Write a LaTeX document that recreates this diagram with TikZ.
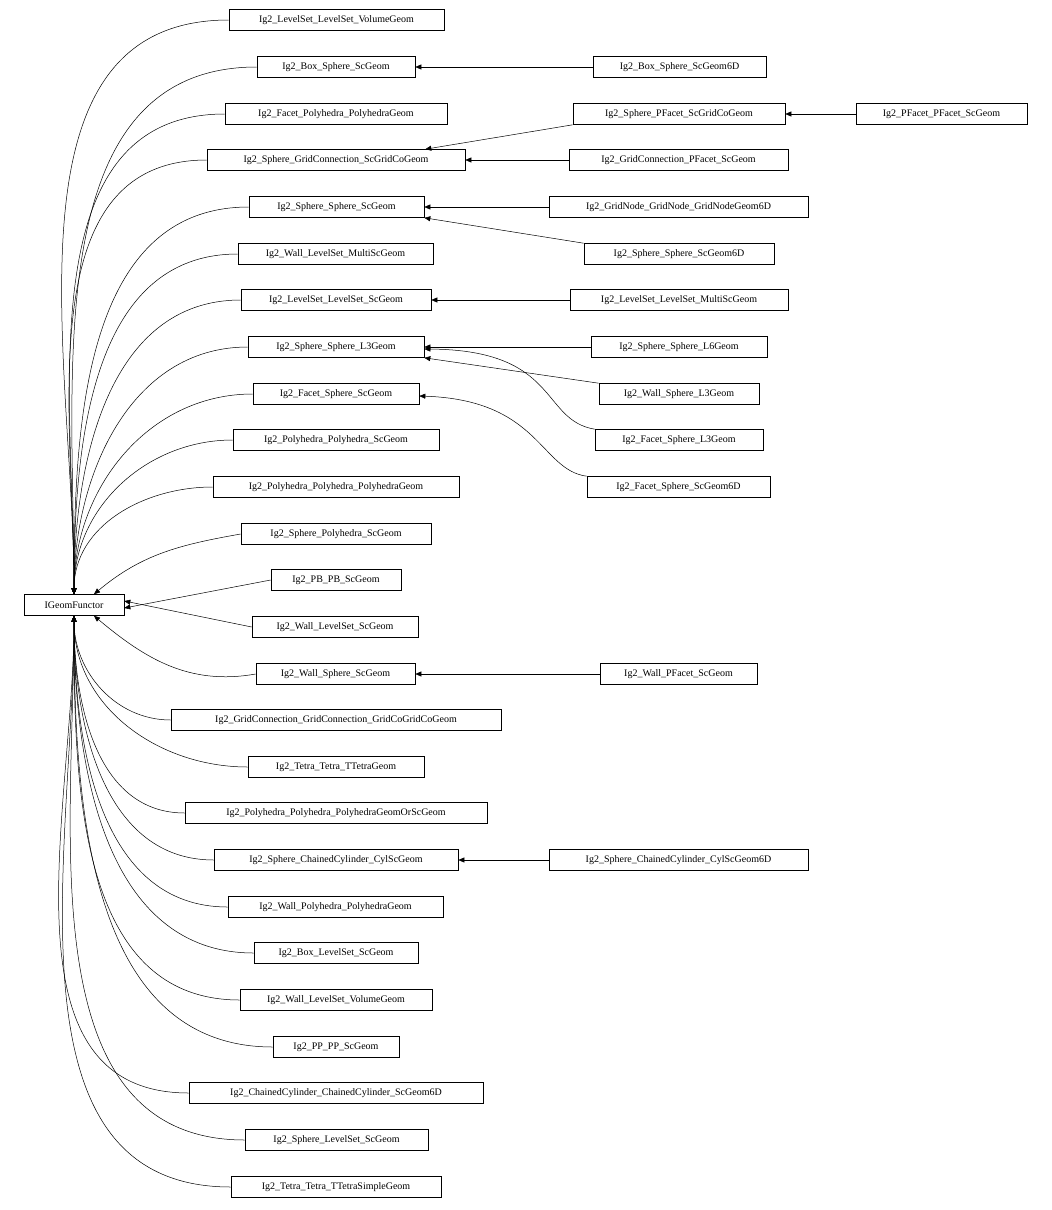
\documentclass[tikz,border=0pt]{standalone}
\usepackage{fontspec}
\setmainfont{Liberation Serif}
\usetikzlibrary{arrows.meta}
\begin{document}
\begin{tikzpicture}[x=1pt,y=-1pt,
 box/.style={draw,line width=0.6pt,minimum height=21,inner sep=0pt,font=\fontsize{10}{12}\selectfont},
 e/.style={line width=0.5pt,-{Triangle[length=6pt,width=5pt]}}]
\useasboundingbox (0,0) rectangle (1052,1210);
\newcommand\nd[5]{\node[box,minimum width=#4] (#1) at (#2,#3) {#5};}
\nd{g}{74}{605}{100}{IGeomFunctor}
\nd{a1}{336.5}{20}{215}{Ig2\_LevelSet\_LevelSet\_VolumeGeom}
\nd{a2}{336}{67}{158}{Ig2\_Box\_Sphere\_ScGeom}
\nd{a3}{336}{114}{222}{Ig2\_Facet\_Polyhedra\_PolyhedraGeom}
\nd{a4}{336}{160}{258}{Ig2\_Sphere\_GridConnection\_ScGridCoGeom}
\nd{a5}{336.5}{207}{175}{Ig2\_Sphere\_Sphere\_ScGeom}
\nd{a6}{335.5}{254}{195}{Ig2\_Wall\_LevelSet\_MultiScGeom}
\nd{a7}{336}{300}{190}{Ig2\_LevelSet\_LevelSet\_ScGeom}
\nd{a8}{336}{347}{176}{Ig2\_Sphere\_Sphere\_L3Geom}
\nd{a9}{336}{394}{166}{Ig2\_Facet\_Sphere\_ScGeom}
\nd{a10}{336}{440}{206}{Ig2\_Polyhedra\_Polyhedra\_ScGeom}
\nd{a11}{336}{487}{246}{Ig2\_Polyhedra\_Polyhedra\_PolyhedraGeom}
\nd{a12}{336}{534}{190}{Ig2\_Sphere\_Polyhedra\_ScGeom}
\nd{a13}{336}{580}{130}{Ig2\_PB\_PB\_ScGeom}
\nd{a14}{335}{627}{166}{Ig2\_Wall\_LevelSet\_ScGeom}
\nd{a15}{335.5}{674}{159}{Ig2\_Wall\_Sphere\_ScGeom}
\nd{a16}{336}{720}{330}{Ig2\_GridConnection\_GridConnection\_GridCoGridCoGeom}
\nd{a17}{336}{767}{176}{Ig2\_Tetra\_Tetra\_TTetraGeom}
\nd{a18}{336}{813}{302}{Ig2\_Polyhedra\_Polyhedra\_PolyhedraGeomOrScGeom}
\nd{a19}{336}{860}{244}{Ig2\_Sphere\_ChainedCylinder\_CylScGeom}
\nd{a20}{335.5}{907}{215}{Ig2\_Wall\_Polyhedra\_PolyhedraGeom}
\nd{a21}{336}{953}{164}{Ig2\_Box\_LevelSet\_ScGeom}
\nd{a22}{336}{1000}{192}{Ig2\_Wall\_LevelSet\_VolumeGeom}
\nd{a23}{336}{1047}{126}{Ig2\_PP\_PP\_ScGeom}
\nd{a24}{336}{1093}{294}{Ig2\_ChainedCylinder\_ChainedCylinder\_ScGeom6D}
\nd{a25}{336.5}{1140}{183}{Ig2\_Sphere\_LevelSet\_ScGeom}
\nd{a26}{336}{1187}{210}{Ig2\_Tetra\_Tetra\_TTetraSimpleGeom}
\nd{b2}{679.5}{67}{173}{Ig2\_Box\_Sphere\_ScGeom6D}
\nd{b3}{679}{114}{212}{Ig2\_Sphere\_PFacet\_ScGridCoGeom}
\nd{b4}{678.5}{160}{219}{Ig2\_GridConnection\_PFacet\_ScGeom}
\nd{b5}{678.5}{207}{259}{Ig2\_GridNode\_GridNode\_GridNodeGeom6D}
\nd{b6}{679}{254}{190}{Ig2\_Sphere\_Sphere\_ScGeom6D}
\nd{b7}{679}{300}{218}{Ig2\_LevelSet\_LevelSet\_MultiScGeom}
\nd{b8}{679}{347}{176}{Ig2\_Sphere\_Sphere\_L6Geom}
\nd{b9}{679}{394}{160}{Ig2\_Wall\_Sphere\_L3Geom}
\nd{b10}{679}{440}{168}{Ig2\_Facet\_Sphere\_L3Geom}
\nd{b11}{678.5}{487}{183}{Ig2\_Facet\_Sphere\_ScGeom6D}
\nd{b15}{678.5}{674}{157}{Ig2\_Wall\_PFacet\_ScGeom}
\nd{b19}{678.5}{860}{259}{Ig2\_Sphere\_ChainedCylinder\_CylScGeom6D}
\nd{c3}{941.5}{114}{171}{Ig2\_PFacet\_PFacet\_ScGeom}
% to IGeomFunctor
\foreach \i/\lo in {1/1.0,2/1.0,3/1.0,4/1.0,5/1.0,6/1.0,7/1.0,8/1.0,9/1.0,10/1.0,11/1.0}
  \draw[e] (a\i.west) to[out=180,in=90,looseness=\lo] (g.north);
\draw[e] (a12.west) to[out=190,in=40] ([xshift=20]g.north);
\draw[e] (a13.west) -- ([yshift=-3]g.east);
\draw[e] (a14.west) -- ([yshift=4]g.east);
\draw[e] (a15.west) to[out=190,in=-40] ([xshift=20]g.south);
\foreach \i in {16,...,26}
  \draw[e] (a\i.west) to[out=180,in=-90] (g.south);
% second level
\draw[e] (b2.west) -- (a2.east);
\draw[e] (c3.west) -- (b3.east);
\draw[e] (b3.south west) -- ([xshift=-40]a4.north east);
\draw[e] (b4.west) -- (a4.east);
\draw[e] (b5.west) -- (a5.east);
\draw[e] (b6.north west) -- (a5.south east);
\draw[e] (b7.west) -- (a7.east);
\draw[e] (b8.west) -- (a8.east);
\draw[e] (b9.north west) -- (a8.south east);
\draw[e] (b10.north west) .. controls (540,420) and (560,350) .. ([yshift=-2]a8.east);
\draw[e] (b11.north west) .. controls (540,470) and (540,400) .. ([yshift=-2]a9.east);
\draw[e] (b15.west) -- (a15.east);
\draw[e] (b19.west) -- (a19.east);
\end{tikzpicture}
\end{document}
